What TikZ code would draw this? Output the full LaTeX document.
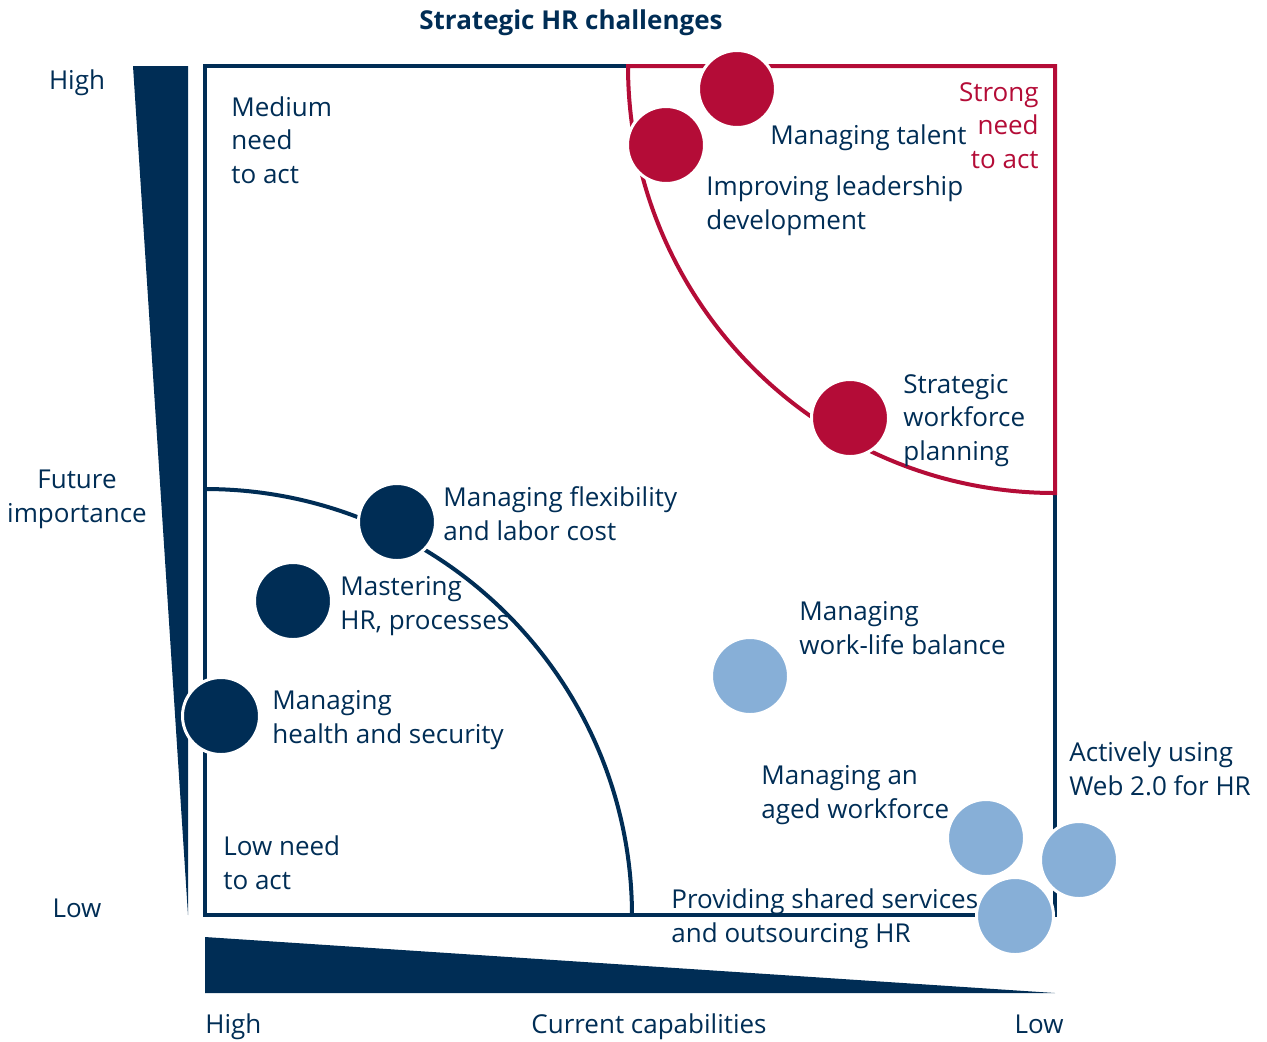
\documentclass[tikz,border=0pt]{standalone}
\usepackage{fontspec}
\setmainfont{Open Sans}
\usetikzlibrary{positioning}
\definecolor{hrnavy}{RGB}{0,45,85}
\definecolor{hrred}{RGB}{180,12,55}
\definecolor{hrsky}{RGB}{135,175,215}
\tikzset{every node/.append style={font=\fontsize{13}{16.75}\selectfont,text=hrnavy,inner sep=0pt}}
\tikzset{bubble/.style={circle,minimum size=38.5pt,draw=white,line width=1.5pt}}
\tikzset{lbl/.style={anchor=base west,align=left}}

\begin{document}
\begin{tikzpicture}[x=0.5pt,y=-0.5pt]
  \useasboundingbox (0,0) rectangle (1267,1041);

  \fill[hrnavy] (133,66) -- (188,66) -- (188,915) -- cycle;
  \fill[hrnavy] (205,937) -- (205,993) -- (1055,993) -- cycle;

  \draw[hrnavy,line width=2pt] (205,66) rectangle (1055,915);
  \draw[hrnavy,line width=2pt] (205,489) arc[start angle=-90,end angle=0,radius=427];
  \draw[hrred,line width=2pt] (628,66) -- (1055,66) -- (1055,493) arc[start angle=90,end angle=180,radius=427] -- cycle;

  \node[bubble,fill=hrred] (talent) at (737,89) {};
  \node[bubble,fill=hrred] (leader) at (666,145) {};
  \node[bubble,fill=hrred] (swp) at (850,418) {};
  \node[bubble,fill=hrnavy] (flex) at (397,522) {};
  \node[bubble,fill=hrnavy] (hrproc) at (293,601) {};
  \node[bubble,fill=hrnavy] (health) at (221,716) {};
  \node[bubble,fill=hrsky] (wlb) at (750,676) {};
  \node[bubble,fill=hrsky] (aged) at (986,838) {};
  \node[bubble,fill=hrsky] (web) at (1079,860) {};
  \node[bubble,fill=hrsky] (shared) at (1015,916) {};

  % multi-line labels sit on the baseline of their last line
  \node[lbl] (talent-txt) at (770,144) {Managing talent};
  \node[lbl] (leader-txt) at (706,229) {Improving leadership\\development};
  \node[lbl] (swp-txt) at (903,460) {Strategic\\workforce\\planning};
  \node[lbl] (flex-txt) at (443,540) {Managing flexibility\\and labor cost};
  \node[lbl] (hrproc-txt) at (340,629) {Mastering\\HR, processes};
  \node[lbl] (health-txt) at (272,743) {Managing\\health and security};
  \node[lbl] (wlb-txt) at (799,654) {Managing\\work-life balance};
  \node[lbl] (aged-txt) at (761,818) {Managing an\\aged workforce};
  \node[lbl] (web-txt) at (1069,795) {Actively using\\Web 2.0 for HR};
  \node[lbl] (shared-txt) at (671,942) {Providing shared services\\and outsourcing HR};
  \node[lbl] (medium) at (231,183) {Medium\\need\\to act};
  \node[lbl] (low) at (223,889) {Low need\\to act};
  \node[anchor=base east,align=right,text=hrred] (strong) at (1039,168) {Strong\\need\\to act};

  \node[anchor=base] (title) at (571,29) {\bfseries Strategic HR challenges};
  \node[anchor=base] (yhigh) at (77,89) {High};
  \node[anchor=base,align=center] (yaxis) at (77,522) {Future\\importance};
  \node[anchor=base] (ylow) at (77,917) {Low};
  \node[anchor=base west] (xhigh) at (205,1033) {High};
  \node[anchor=base] (xaxis) at (649,1033) {Current capabilities};
  \node[anchor=base east] (xlow) at (1064,1033) {Low};
\end{tikzpicture}
\end{document}
